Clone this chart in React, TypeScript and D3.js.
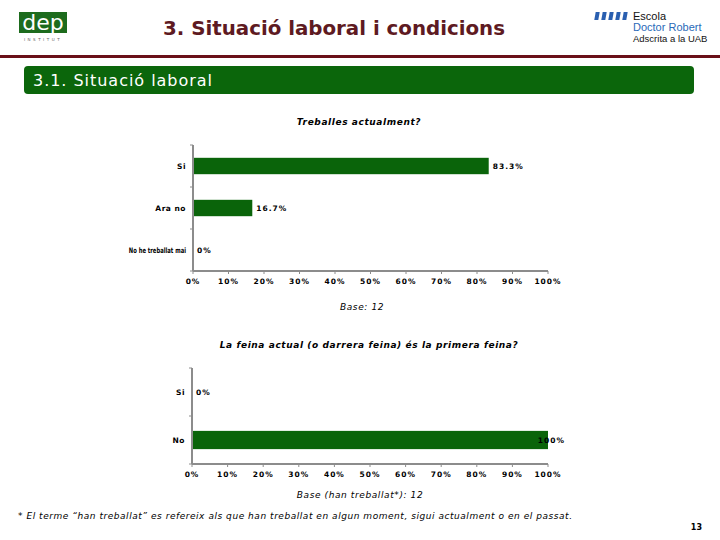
import React from "react";
import * as d3 from "d3";

const pageTitle = "3. Situació laboral i condicions";
const sectionTitle = "3.1. Situació laboral";

const chart1Title = "Treballes actualment?";
const chart1Categories = ["Si", "Ara no", "No he treballat mai"];
const chart1Values = [83.3, 16.7, 0];
const chart1Labels = ["83.3%", "16.7%", "0%"];
const chart1Base = "Base: 12";

const chart2Title = "La feina actual (o darrera feina) és la primera feina?";
const chart2Categories = ["Si", "No"];
const chart2Values = [0, 100];
const chart2Labels = ["0%", "100%"];
const chart2Base = "Base (han treballat*): 12";

const xTicks = [0, 10, 20, 30, 40, 50, 60, 70, 80, 90, 100];
const footnote =
  "* El terme \u201chan treballat\u201d  es refereix als que han treballat en algun moment, sigui actualment o en el passat.";
const pageNumber = "13";

const GREEN = "#0a640a";
const FONT = "'DejaVu Sans', Verdana, sans-serif";

type ChartProps = {
  title: string;
  titleX: number;
  titleY: number;
  categories: string[];
  values: number[];
  labels: string[];
  base: string;
  baseX: number;
  baseY: number;
  x0: number;
  x1: number;
  yTop: number;
  yBottom: number;
  barFrac: number;
  lastLabelEnd?: number;
};

function BarChart(p: ChartProps) {
  const x = d3.scaleLinear().domain([0, 100]).range([p.x0, p.x1]);
  const y = d3
    .scaleBand<string>()
    .domain(p.categories)
    .range([p.yTop, p.yBottom])
    .paddingInner(0)
    .paddingOuter(0);
  const step = y.step();
  const bh = step * p.barFrac;
  const axisColor = "#8c8c8c";
  const boundaries = d3.range(p.categories.length + 1).map((i) => p.yTop + i * step);
  return (
    <g>
      <text
        x={p.titleX}
        y={p.titleY}
        textAnchor="middle"
        fontFamily={FONT}
        fontSize={9}
        fontWeight="bold"
        fontStyle="italic"
        letterSpacing={0.6}
        fill="#000"
      >
        {p.title}
      </text>
      {p.categories.map((c, i) => {
        const yc = (y(c) as number) + step / 2;
        const w = x(p.values[i]) - x(0);
        const isFull = p.values[i] >= 100;
        const long = c.length > 10;
        return (
          <g key={c}>
            {w > 0 && (
              <rect x={x(0)} y={yc - bh / 2} width={w} height={bh} fill={GREEN} />
            )}
            <g transform={`translate(${p.x0 - 7},${yc + 3}) scale(${long ? 0.7 : 1},1)`}>
              <text
                x={0}
                y={0}
                textAnchor="end"
                fontFamily={FONT}
                fontSize={7.5}
                fontWeight="bold"
                letterSpacing={long ? 0 : 0.5}
              >
                {c}
              </text>
            </g>
            <text
              x={isFull && p.lastLabelEnd ? p.lastLabelEnd : x(p.values[i]) + 4}
              y={yc + 3}
              textAnchor={isFull && p.lastLabelEnd ? "end" : "start"}
              fontFamily={FONT}
              fontSize={7.5}
              fontWeight="bold"
              letterSpacing={1}
            >
              {p.labels[i]}
            </text>
          </g>
        );
      })}
      <line x1={p.x0} x2={p.x0} y1={p.yTop} y2={p.yBottom} stroke={axisColor} strokeWidth={2} />
      {boundaries.map((b, i) => (
        <line key={i} x1={p.x0 - 3} x2={p.x0} y1={b} y2={b} stroke={axisColor} strokeWidth={1} />
      ))}
      <line x1={p.x0} x2={p.x1} y1={p.yBottom} y2={p.yBottom} stroke={axisColor} strokeWidth={2} />
      {xTicks.map((t) => (
        <g key={t}>
          <line x1={x(t)} x2={x(t)} y1={p.yBottom} y2={p.yBottom + 3} stroke={axisColor} strokeWidth={1} />
          <text
            x={x(t)}
            y={p.yBottom + 13}
            textAnchor="middle"
            fontFamily={FONT}
            fontSize={7.5}
            fontWeight="bold"
            letterSpacing={1}
          >
            {t + "%"}
          </text>
        </g>
      ))}
      <text
        x={p.baseX}
        y={p.baseY}
        textAnchor="middle"
        fontFamily={FONT}
        fontSize={9}
        fontStyle="italic"
        letterSpacing={0.6}
      >
        {p.base}
      </text>
    </g>
  );
}

export default function App() {
  return (
    <svg
      width={720}
      height={540}
      style={{ position: "absolute", left: 0, top: 0, background: "#fff" }}
    >
      <rect x={0} y={0} width={720} height={540} fill="#fff" />
      {/* dep logo */}
      <rect x={19} y={12} width={48} height={21} fill="#1d6b1d" />
      <text x={43} y={30} textAnchor="middle" fontFamily="'DejaVu Sans', sans-serif" fontSize={22} fill="#fff">
        dep
      </text>
      <text x={43} y={41} textAnchor="middle" fontFamily={FONT} fontSize={4} fill="#666" letterSpacing={2.5}>
        INSTITUT
      </text>
      {/* Page title */}
      <text
        x={334}
        y={35}
        textAnchor="middle"
        fontFamily="'DejaVu Sans Condensed', 'DejaVu Sans', sans-serif"
        fontSize={20}
        fontWeight="bold"
        fill="#5e1a22"
        textLength={342}
        lengthAdjust="spacingAndGlyphs"
      >
        {pageTitle}
      </text>
      {/* Right logo */}
      {[0, 7, 14, 21, 28].map((dx, i) => (
        <rect key={i} x={595 + dx} y={12} width={4} height={8} fill="#2a5fb0" transform="skewX(-10)" style={{ transformOrigin: `${597 + dx}px 16px` }} />
      ))}
      <text x={633} y={20} fontFamily="'Liberation Sans', Arial, sans-serif" fontSize={11} fill="#111">
        Escola
      </text>
      <text x={633} y={31} fontFamily="'Liberation Sans', Arial, sans-serif" fontSize={11} fill="#2a6ab8">
        Doctor Robert
      </text>
      <text x={633} y={42} fontFamily="'Liberation Sans', Arial, sans-serif" fontSize={9.5} fill="#111">
        Adscrita a la UAB
      </text>
      {/* Red separator */}
      <rect x={0} y={55} width={720} height={3} fill="#6a1018" />
      {/* Section box */}
      <rect x={24} y={66} width={670} height={28} rx={4} fill="#0b660b" />
      <text
        x={33}
        y={86}
        fontFamily="'DejaVu Sans', sans-serif"
        fontSize={16}
        fill="#fff"
        textLength={179}
        lengthAdjust="spacing"
      >
        {sectionTitle}
      </text>

      <BarChart
        title={chart1Title}
        titleX={359}
        titleY={125}
        categories={chart1Categories}
        values={chart1Values}
        labels={chart1Labels}
        base={chart1Base}
        baseX={362}
        baseY={310}
        x0={193}
        x1={548}
        yTop={145}
        yBottom={271}
        barFrac={0.39}
      />
      <BarChart
        title={chart2Title}
        titleX={369}
        titleY={348}
        categories={chart2Categories}
        values={chart2Values}
        labels={chart2Labels}
        base={chart2Base}
        baseX={360}
        baseY={498}
        x0={192}
        x1={548}
        yTop={368}
        yBottom={464}
        barFrac={0.38}
        lastLabelEnd={565}
      />

      <text
        x={18}
        y={519}
        fontFamily={FONT}
        fontSize={9}
        fontStyle="italic"
        fill="#000"
        textLength={554}
        lengthAdjust="spacing"
      >
        {footnote}
      </text>
      <text x={702} y={530} textAnchor="end" fontFamily={FONT} fontSize={8} fontWeight="bold">
        {pageNumber}
      </text>
    </svg>
  );
}
